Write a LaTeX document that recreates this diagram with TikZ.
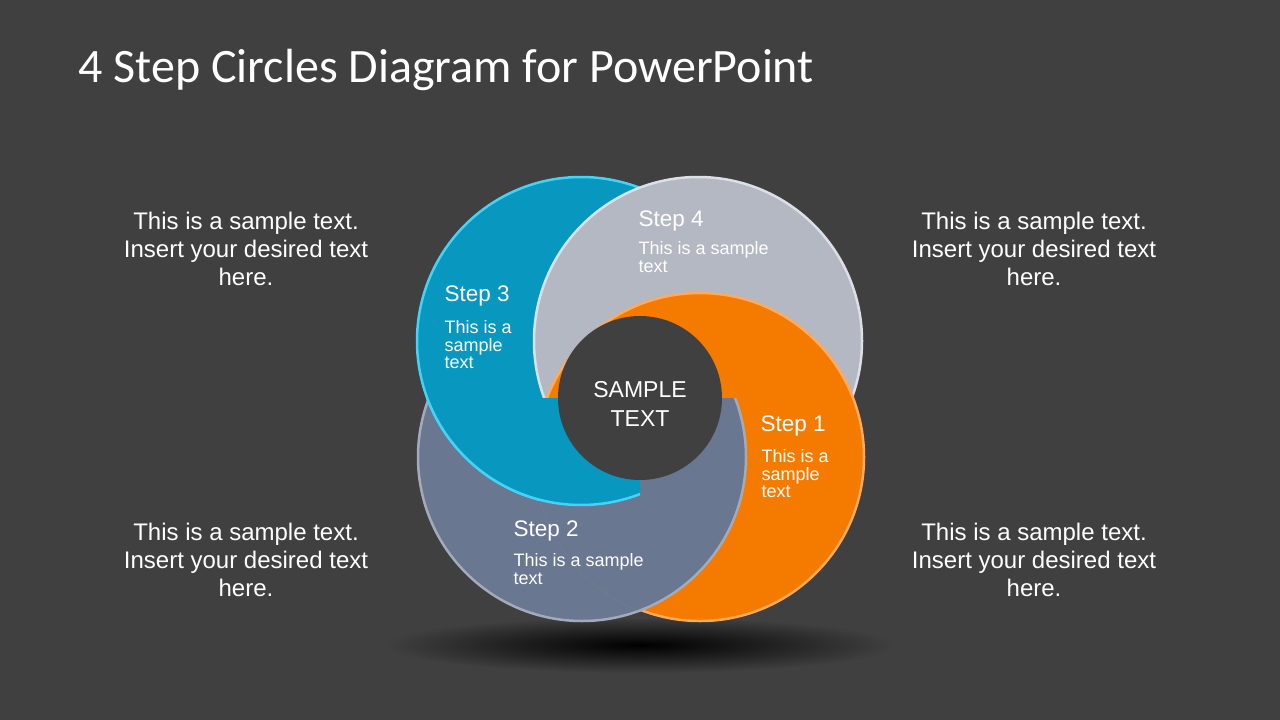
\documentclass[tikz,border=0pt]{standalone}
\usepackage{fontspec}
\setmainfont{Liberation Sans}
\newfontfamily\titlefont{Carlito}
\definecolor{bgc}{HTML}{404040}
\definecolor{bluec}{HTML}{0797BF}
\definecolor{blueb}{HTML}{45D2F7}
\definecolor{greyc}{HTML}{B3B8C3}
\definecolor{greyb}{HTML}{DCE0E6}
\definecolor{orangec}{HTML}{F57B00}
\definecolor{orangeb}{HTML}{FFAA5E}
\definecolor{slatec}{HTML}{6A7790}
\definecolor{slateb}{HTML}{A3ABBA}
\tikzset{
  ring/.style={line width=2.5pt},
  sidetext/.style={text=white, align=center, font=\fontsize{24}{28}\selectfont},
  steptitle/.style={text=white, anchor=west, font=\fontsize{22.5}{24}\selectfont},
  stepsub/.style={text=white, anchor=north west, align=left, font=\fontsize{18}{17.5}\selectfont},
}
\begin{document}
\begin{tikzpicture}[x=1pt, y=-1pt]
\fill[bgc] (0,0) rectangle (1280,720);
\useasboundingbox (0,0) rectangle (1280,720);
% title
\node[anchor=base west, text=white, font=\titlefont\fontsize{48}{54}\selectfont] (title) at (75,82) {4 Step Circles Diagram for PowerPoint};
% shadow
\shade[inner color=black, outer color=bgc] (640,645) ellipse (255 and 28);
% circles
\filldraw[ring, fill=slatec, draw=slateb] (582,457) circle (164);
\filldraw[ring, fill=bluec, draw=blueb] (581,341) circle (164);
\filldraw[ring, fill=greyc, draw=greyb] (698,341) circle (164);
\filldraw[ring, fill=orangec, draw=orangeb] (700,457) circle (164);
\begin{scope}
  \clip (700,457) circle (165.5);
  \clip (0,398) rectangle (1280,720);
  \filldraw[ring, fill=slatec, draw=slateb] (582,457) circle (164);
\end{scope}
\begin{scope}
  \clip (0,398) rectangle (640,720);
  \filldraw[ring, fill=bluec, draw=blueb] (581,341) circle (164);
\end{scope}
\fill[bgc] (640,398) circle (82);
\node[text=white, align=center, font=\fontsize{23}{29}\selectfont] (center) at (640,404) {SAMPLE\\TEXT};
% steps
\node[steptitle] (s4) at (635,221) {Step 4};
\node[stepsub] (s4t) at (635,238) {This is a sample\\text};
\node[steptitle] (s3) at (441,296) {Step 3};
\node[stepsub] (s3t) at (441,317) {This is a\\sample\\text};
\node[steptitle] (s1) at (757,426) {Step 1};
\node[stepsub] (s1t) at (758,446) {This is a\\sample\\text};
\node[steptitle] (s2) at (510,531) {Step 2};
\node[stepsub] (s2t) at (510,550) {This is a sample\\text};
% side texts
\node[sidetext] (tl) at (246,249) {This is a sample text.\\Insert your desired text\\here.};
\node[sidetext] (tr) at (1034,249) {This is a sample text.\\Insert your desired text\\here.};
\node[sidetext] (bl) at (246,560) {This is a sample text.\\Insert your desired text\\here.};
\node[sidetext] (br) at (1034,560) {This is a sample text.\\Insert your desired text\\here.};
\end{tikzpicture}
\end{document}
